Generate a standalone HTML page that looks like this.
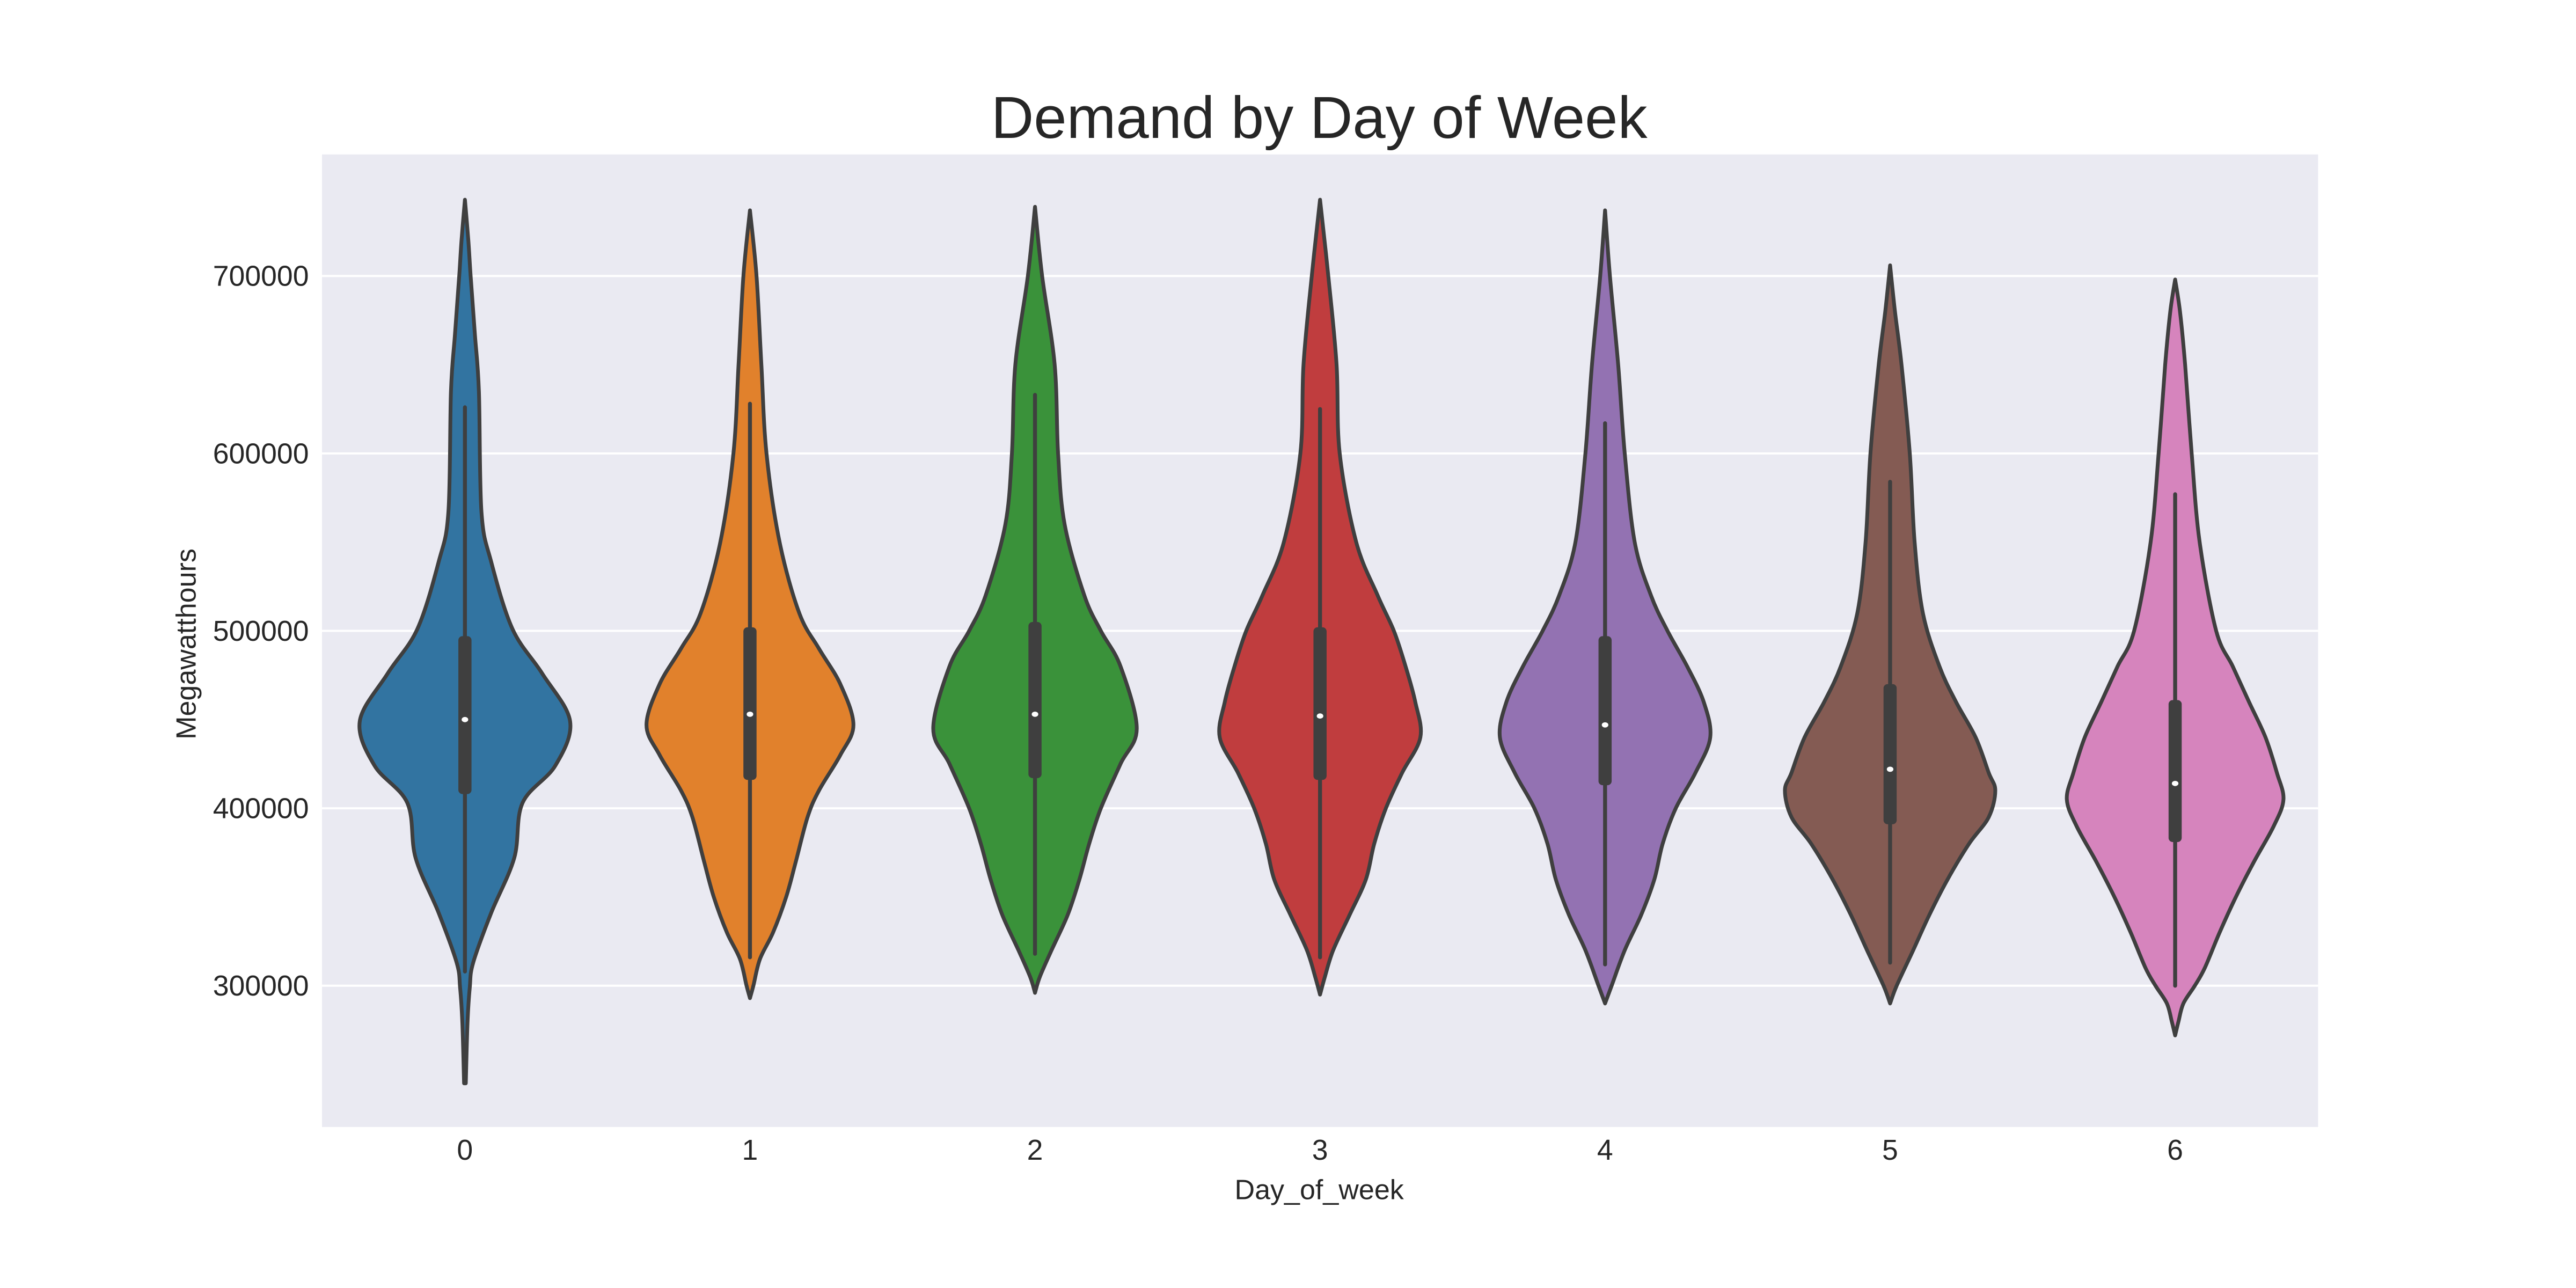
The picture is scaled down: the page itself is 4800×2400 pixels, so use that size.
<!DOCTYPE html>
<html><head><meta charset="utf-8"><style>
html,body{margin:0;padding:0;background:#fff;}
svg{display:block;}
text{font-family:"Liberation Sans",sans-serif;fill:#262626;}
</style></head>
<body>
<svg id="chart" width="4800" height="2400" viewBox="0 0 1568 784" xmlns="http://www.w3.org/2000/svg">
<rect x="196" y="94" width="1215" height="592" fill="#eaeaf2"/>
<g id="grid"></g>
<g id="violins"></g>
<g id="yticks"></g>
<g id="xticks"></g>
<text x="803" y="84" font-size="36" text-anchor="middle">Demand by Day of Week</text>
<text x="803" y="730" font-size="17" text-anchor="middle">Day_of_week</text>
<text x="0" y="0" font-size="17" text-anchor="middle" transform="translate(119,392) rotate(-90)">Megawatthours</text>
</svg>
<script>
// data
const categories = ["0","1","2","3","4","5","6"];
const colors = ["#3274a1","#e1812c","#3a923a","#c03d3e","#9372b2","#845b53","#d684bd"];
const yTicks = [300000,400000,500000,600000,700000];
// density profiles: values (thousands MWh) and relative half-widths (fraction of category spacing)
const densVals = [
 [743,720,700,667,635,567,539,501,476,449,424,403,372,341,313,299,279,245],
 [737,700,650,600,550,510,490,470,447,430,410,395,370,350,330,315,300,293],
 [739,700,650,600,560,520,500,480,445,425,400,380,360,340,320,305,296],
 [743,700,650,600,550,520,500,480,460,440,420,400,380,360,340,320,305,295],
 [737,700,650,600,550,520,500,480,460,440,420,400,380,360,340,320,300,290],
 [706,680,650,600,550,510,480,460,440,420,410,395,380,360,340,320,300,290],
 [698,680,650,600,550,500,480,460,440,420,405,390,370,350,330,310,300,290,280,272]
];
const densWidths = [
 [0,0.012,0.02,0.035,0.049,0.058,0.092,0.167,0.271,0.369,0.317,0.202,0.173,0.092,0.029,0.017,0.009,0.003],
 [0,0.023,0.04,0.058,0.104,0.173,0.242,0.317,0.363,0.317,0.242,0.202,0.161,0.127,0.081,0.035,0.012,0],
 [0,0.025,0.069,0.081,0.104,0.173,0.231,0.300,0.357,0.300,0.231,0.190,0.156,0.115,0.058,0.017,0],
 [0,0.029,0.058,0.069,0.127,0.202,0.259,0.300,0.334,0.352,0.288,0.231,0.190,0.161,0.104,0.046,0.017,0],
 [0,0.017,0.046,0.069,0.104,0.161,0.219,0.288,0.346,0.369,0.317,0.248,0.202,0.173,0.127,0.069,0.023,0],
 [0,0.017,0.040,0.069,0.086,0.115,0.173,0.231,0.300,0.346,0.369,0.346,0.277,0.202,0.138,0.081,0.023,0],
 [0,0.017,0.035,0.058,0.086,0.144,0.202,0.259,0.317,0.357,0.380,0.346,0.277,0.213,0.156,0.104,0.069,0.029,0.012,0]
];
const q1 = [408000,416000,417000,416000,413000,391000,381000];
const q3 = [497000,502000,505000,502000,497000,470000,461000];
const medians = [450000,453000,453000,452000,447000,422000,414000];
const whiskLo = [308000,316000,318000,316000,312000,313000,300000];
const whiskHi = [626000,628000,633000,625000,617000,584000,577000];

const NS="http://www.w3.org/2000/svg";
const yScale = v => 600 - (v-300000)/100000*108;
const xScale = i => 283 + i*173.5;
const BAND = 173.5;
function mk(tag, attrs, parent){const e=document.createElementNS(NS,tag);for(const k in attrs)e.setAttribute(k,attrs[k]);parent.appendChild(e);return e;}

const grid=document.getElementById('grid'), yt=document.getElementById('yticks'), xt=document.getElementById('xticks'), vg=document.getElementById('violins');
yTicks.forEach(t=>{
  const l=mk('line',{x1:196,x2:1411,y1:yScale(t),y2:yScale(t),stroke:'#fff','stroke-width':1.3},grid);
  
  
  const tx=mk('text',{x:188,y:yScale(t)+6,'font-size':17.5,'text-anchor':'end'},yt);
  tx.textContent=String(t);
  
  
});
categories.forEach((c,i)=>{
  const tx=mk('text',{x:xScale(i),y:706,'font-size':17.5,'text-anchor':'middle'},xt);
  tx.textContent=c;
  
  
});
function smooth(pts){
  let d='M'+pts[0][0]+','+pts[0][1];
  for(let i=0;i<pts.length-1;i++){
    const p0=pts[Math.max(i-1,0)],p1=pts[i],p2=pts[i+1],p3=pts[Math.min(i+2,pts.length-1)];
    const c1=[p1[0]+(p2[0]-p0[0])/6,p1[1]+(p2[1]-p0[1])/6];
    const c2=[p2[0]-(p3[0]-p1[0])/6,p2[1]-(p3[1]-p1[1])/6];
    d+=' C'+c1[0].toFixed(2)+','+c1[1].toFixed(2)+' '+c2[0].toFixed(2)+','+c2[1].toFixed(2)+' '+p2[0].toFixed(2)+','+p2[1].toFixed(2);
  }
  return d;
}
categories.forEach((c,i)=>{
  const cx=xScale(i), vals=densVals[i], ws=densWidths[i];
  const right=vals.map((v,j)=>[cx+ws[j]*BAND, yScale(v*1000)]);
  const left=vals.map((v,j)=>[cx-ws[j]*BAND, yScale(v*1000)]).reverse();
  const d=smooth(right)+' L'+left[0][0]+','+left[0][1]+' '+smooth(left).slice(1)+' Z';
  const g=mk('g',{},vg);
  
  
  const p=mk('path',{d:d,fill:colors[i],stroke:'#3f3f3f','stroke-width':2.3,'stroke-linejoin':'round'},g);
  
  
  const w=mk('line',{x1:cx,x2:cx,y1:yScale(whiskLo[i]),y2:yScale(whiskHi[i]),stroke:'#3f3f3f','stroke-width':2.4,'stroke-linecap':'round'},g);
  
  
  const b=mk('rect',{x:cx-4,y:yScale(q3[i]),width:8,height:yScale(q1[i])-yScale(q3[i]),rx:2.5,fill:'#3f3f3f'},g);
  
  
  const m=mk('ellipse',{cx:cx,cy:yScale(medians[i]),rx:2,ry:1.6,fill:'#fff'},g);
  
  
});
</script>
</body></html>
